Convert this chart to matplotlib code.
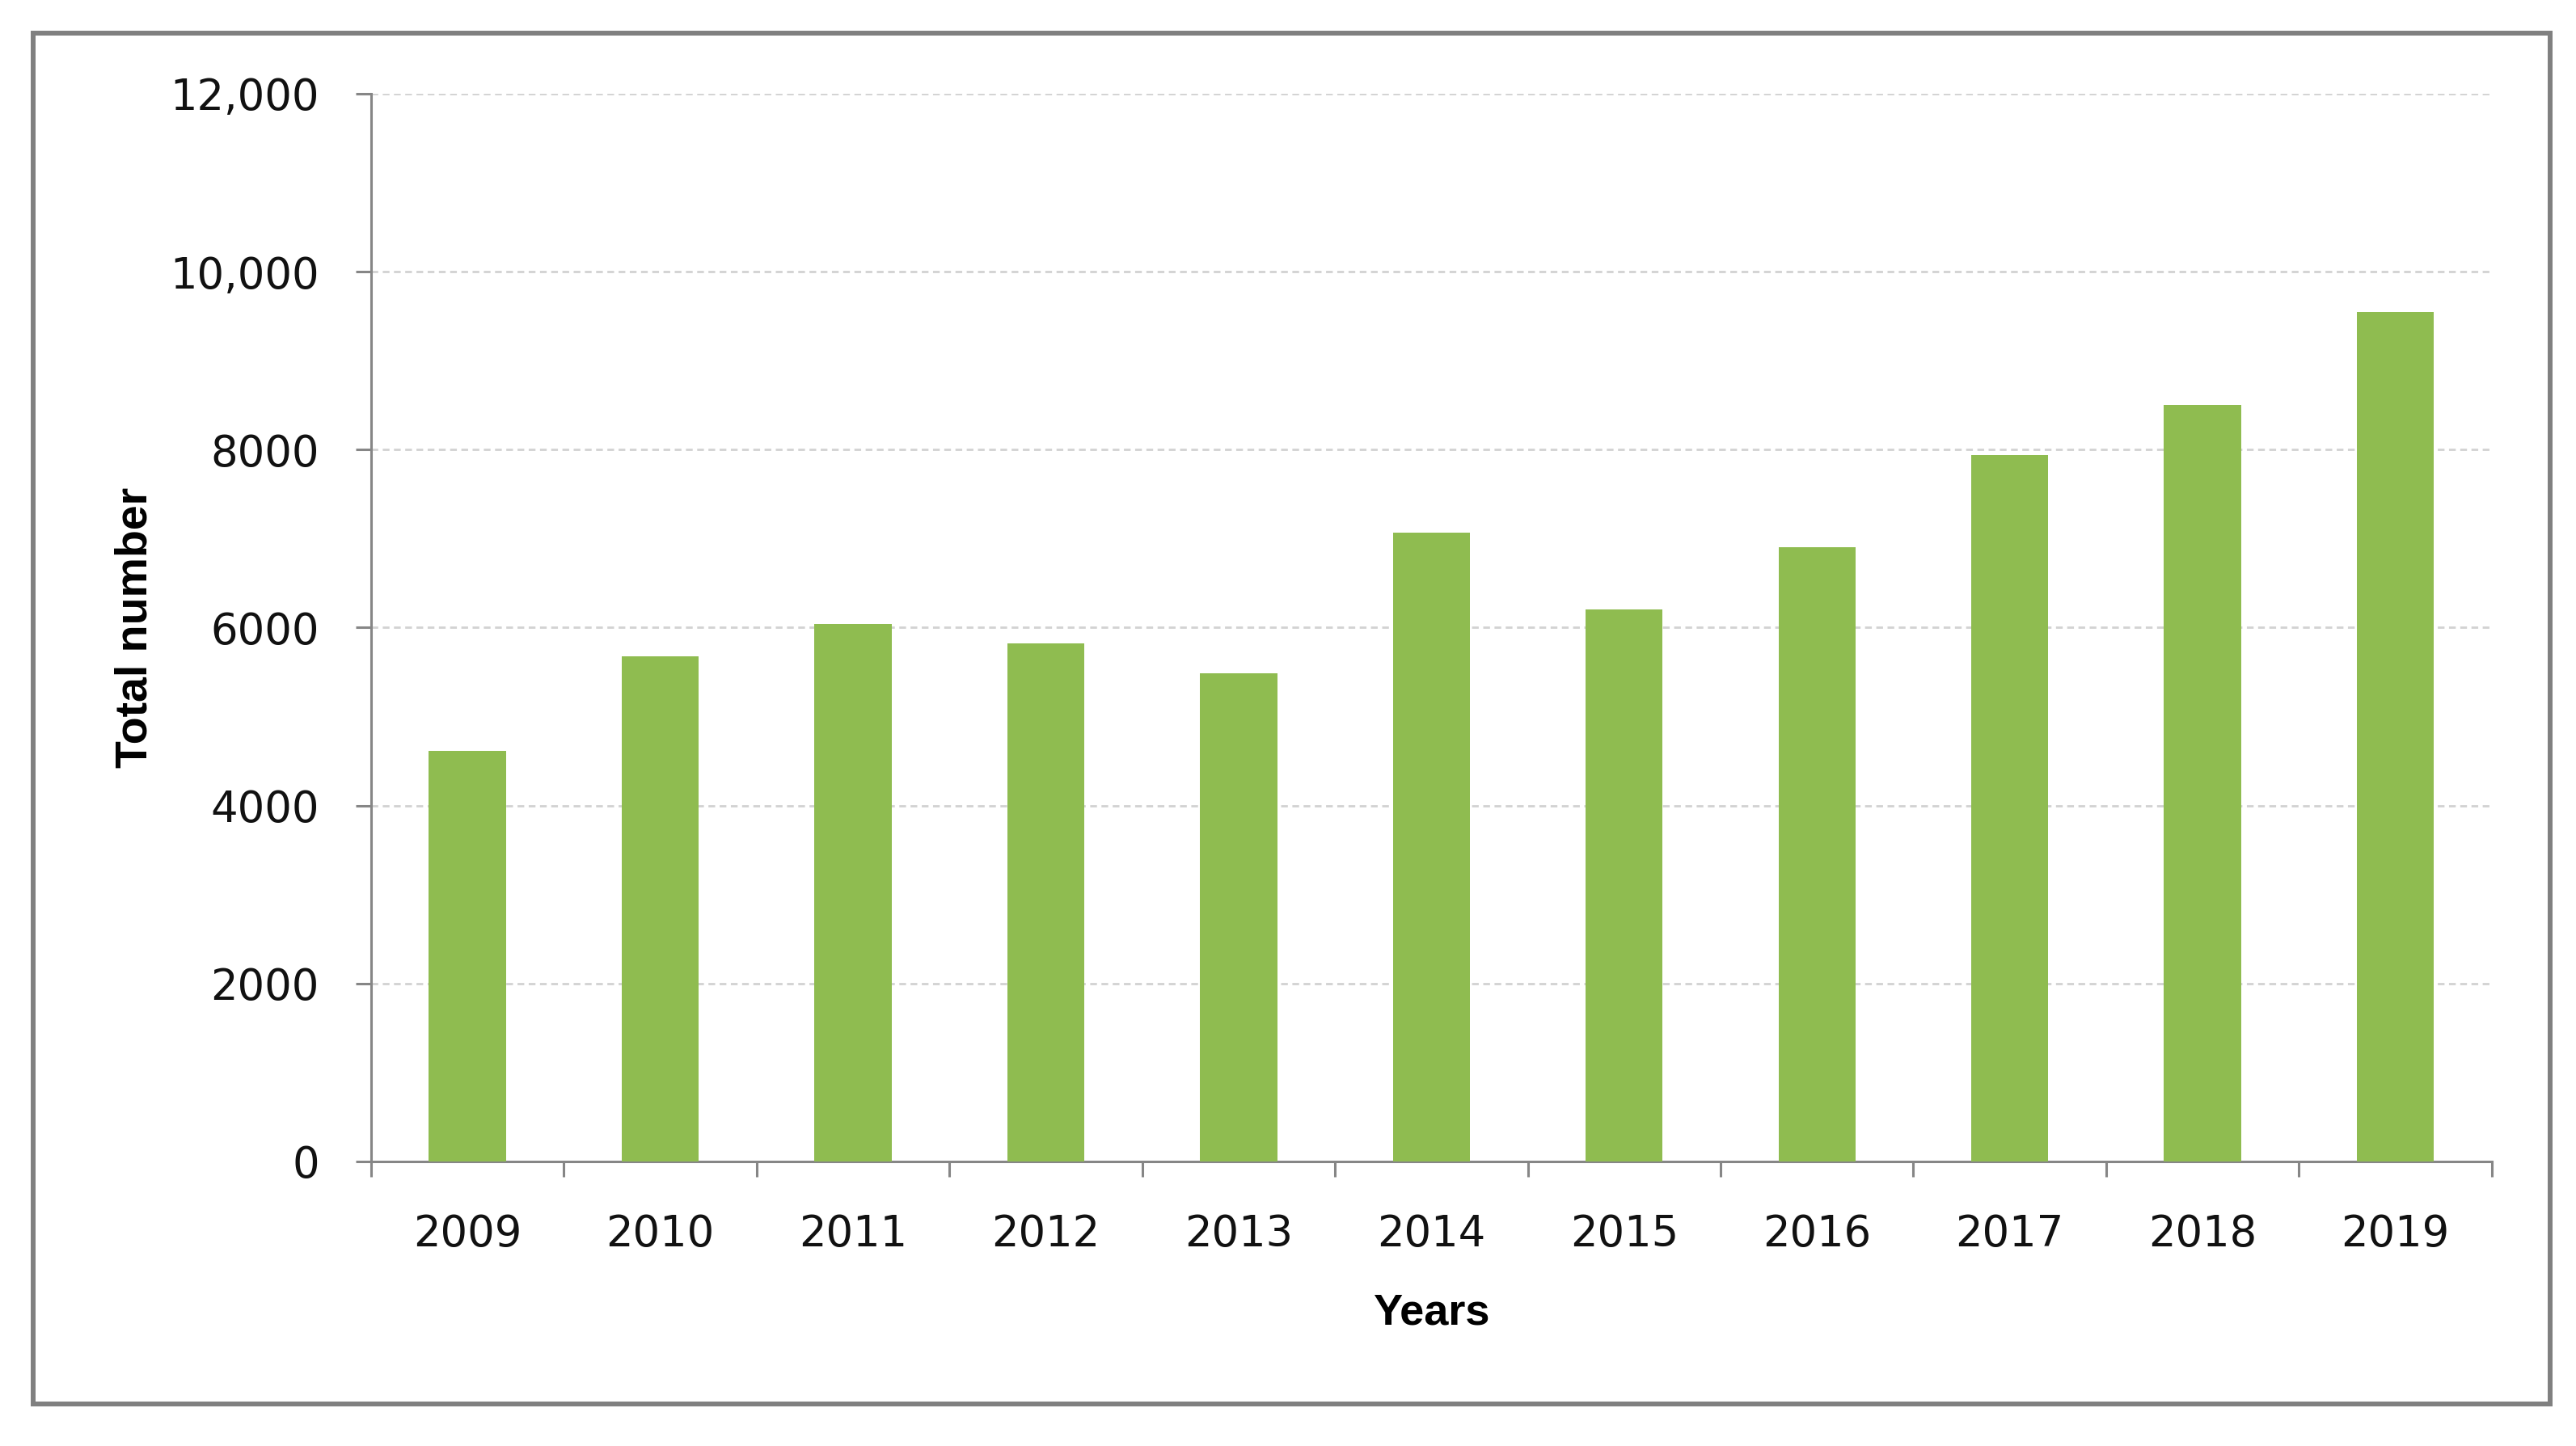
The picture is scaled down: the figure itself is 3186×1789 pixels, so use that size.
import matplotlib
matplotlib.use("Agg")
import matplotlib.pyplot as plt
from matplotlib.patches import Rectangle

# data
years = ['2009', '2010', '2011', '2012', '2013', '2014',
         '2015', '2016', '2017', '2018', '2019']
totals = [4617, 5681, 6043, 5821, 5489, 7071, 6205, 6902, 7942, 8503, 9543]
y_ticks = [0, 2000, 4000, 6000, 8000, 10000, 12000]
y_tick_labels = ['0', '2000', '4000', '6000', '8000', '10,000', '12,000']

bar_color = '#8fbc50'
axis_gray = '#868686'

fig = plt.figure(figsize=(31.86, 17.89), dpi=100)
ax = fig.add_axes([0.144, 0.1968, 0.8233, 0.7384])

x = list(range(len(years)))
ax.bar(x, totals, width=0.40, color=bar_color, zorder=3)

ax.set_xlim(-0.5, len(years) - 0.5)
ax.set_ylim(0, 12000)

# grid
ax.set_yticks(y_ticks)
ax.set_yticklabels(y_tick_labels)
ax.yaxis.grid(True, color='#d2d2d2', linestyle=(0, (3, 2)), linewidth=2.0, zorder=0)
ax.set_axisbelow(True)

# x ticks between categories, labels at bar centres
ax.set_xticks([i - 0.5 for i in range(len(years) + 1)])
ax.set_xticklabels([])
ax.set_xticks(x, minor=True)
ax.set_xticklabels(years, minor=True)

for side in ['top', 'right']:
    ax.spines[side].set_visible(False)
for side in ['left', 'bottom']:
    ax.spines[side].set_color(axis_gray)
    ax.spines[side].set_linewidth(2.2)

ax.tick_params(axis='y', direction='out', length=14, width=2.2, color=axis_gray,
               labelsize=38, pad=32, labelcolor='#111111')
ax.tick_params(axis='x', which='major', direction='out', length=14, width=2.2,
               color=axis_gray)
ax.tick_params(axis='x', which='minor', length=0, labelsize=38, pad=46,
               labelcolor='#111111')

ax.set_xlabel('Years', fontsize=39, fontweight='bold', family='Liberation Sans')
ax.set_ylabel('Total number', fontsize=40, fontweight='bold', family='Liberation Sans')
ax.xaxis.set_label_coords(0.5, -0.123)
ax.yaxis.set_label_coords(-0.101, 0.5)

# outer frame around the chart
fig.patches.append(Rectangle((0.0129, 0.029), 0.977, 0.948, transform=fig.transFigure,
                             fill=False, edgecolor='#808080', linewidth=4.3))

plt.savefig('out.png', dpi=100)
